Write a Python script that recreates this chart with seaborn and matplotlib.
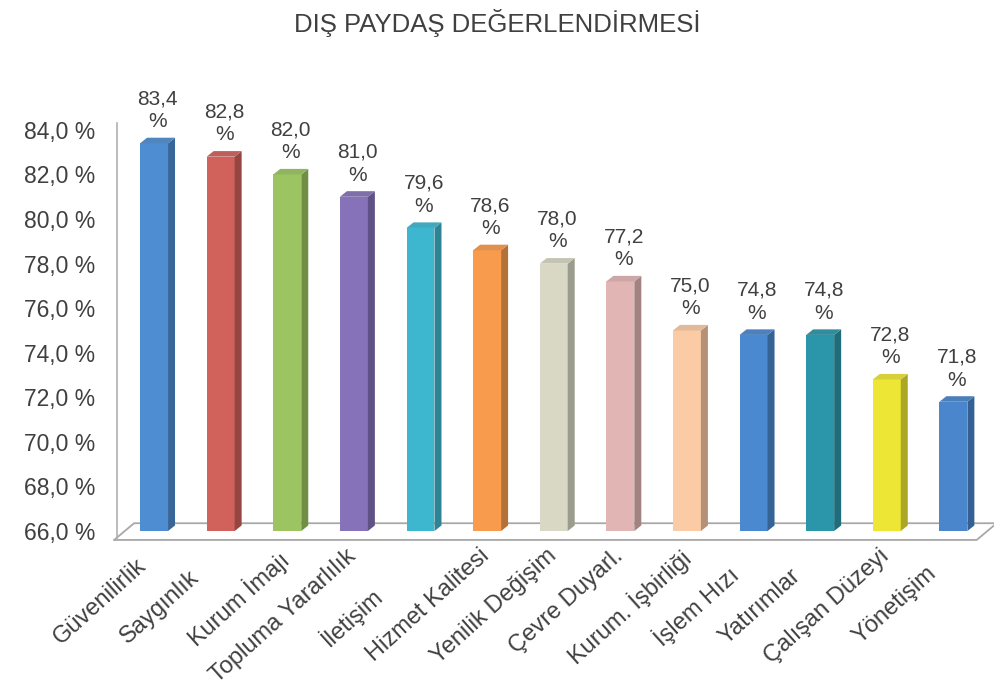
import math
import matplotlib
matplotlib.use("Agg")
import matplotlib.pyplot as plt
import seaborn as sns
import pandas as pd
from matplotlib.patches import Polygon
from matplotlib.transforms import blended_transform_factory, ScaledTranslation
import matplotlib.colors as mcolors

categories = ["Güvenilirlik", "Saygınlık", "Kurum İmajı", "Topluma Yararlılık", "İletişim",
              "Hizmet Kalitesi", "Yenilik Değişim", "Çevre Duyarl.", "Kurum. İşbirliği",
              "İşlem Hızı", "Yatırımlar", "Çalışan Düzeyi", "Yönetişim"]
values = [83.4, 82.8, 82.0, 81.0, 79.6, 78.6, 78.0, 77.2, 75.0, 74.8, 74.8, 72.8, 71.8]
colors = ["#4F8DD3", "#D0615B", "#9CC561", "#8572B9", "#3DB7CF", "#F89B4C", "#D9D8C5",
          "#E2B5B5", "#FBCBA5", "#4A89CF", "#2B96A9", "#EEE634", "#4A86CC"]
yticks = [66, 68, 70, 72, 74, 76, 78, 80, 82, 84]
title = "DIŞ PAYDAŞ DEĞERLENDİRMESİ"

sns.set_theme(style="white")
plt.rcParams["font.family"] = ["Liberation Sans", "DejaVu Sans"]
text_color = "#404040"

fig = plt.figure(figsize=(9.95, 6.91), dpi=100)
ax = fig.add_axes([0.118, 0.2315, 0.877, 0.5805])

df = pd.DataFrame({"cat": categories, "val": values})
sns.barplot(data=df, x="cat", y="val", hue="cat", palette=colors, legend=False,
            width=0.42, ax=ax, saturation=1, edgecolor="none")
ymin, ymax = 66, 84
ax.set_ylim(ymin, ymax)
n = len(categories)
ax.set_xlim(-0.55, n - 0.45)

# floor (perspective)
ax.plot([-0.6, -0.3, n - 0.35], [65.6, 66.35, 66.35], color="#A8A8A8", lw=1.3,
        clip_on=False, zorder=0.5)
ax.plot([-0.6, n - 0.65, n - 0.35], [65.6, 65.6, 66.35],
        color="#A8A8A8", lw=1.3, clip_on=False, zorder=0.5)

# pseudo 3D side/top faces + value labels
for p, c in zip(ax.patches, colors):
    x0 = p.get_x()
    w, h = p.get_width(), p.get_height()
    dx, dy = w * 0.25, 0.25
    base = mcolors.to_rgb(c)
    side = tuple(v * 0.72 for v in base)
    top = tuple(min(1, v * 0.85 + 0.05) for v in base)
    p.set_zorder(2)
    ax.add_patch(Polygon([(x0 + w, ymin), (x0 + w + dx, ymin + dy), (x0 + w + dx, h + dy),
                          (x0 + w, h)], closed=True, facecolor=side, edgecolor="none",
                         zorder=2))
    ax.add_patch(Polygon([(x0, h), (x0 + w, h), (x0 + w + dx, h + dy),
                          (x0 + dx, h + dy)], closed=True, facecolor=top, edgecolor="none",
                         zorder=2))
    ax.text(x0 + w / 2 + dx / 2, h + 0.55, f"{h:.1f}".replace(".", ",") + "\n%",
            ha="center", va="bottom", fontsize=15, color=text_color, linespacing=1.25)

ax.set_yticks(yticks)
ax.set_yticklabels([f"{t:.1f}".replace(".", ",") + " %" for t in yticks], fontsize=16.5,
                   color=text_color)
ax.set_xticks(range(n))
ax.set_xticklabels([])
ax.tick_params(axis="x", length=0)
ax.tick_params(axis="y", pad=16, length=0)
ax.set_xlabel("")
ax.set_ylabel("")
for s in ["top", "right", "bottom"]:
    ax.spines[s].set_visible(False)
ax.spines["left"].set_color("#B0B0B0")
ax.spines["left"].set_linewidth(1.2)
ax.spines["left"].set_bounds(65.6, 84.3)
ax.grid(False)

# category labels: rotated, Excel-like placement (short labels share a start point)
fig.canvas.draw()
renderer = fig.canvas.get_renderer()
trans = blended_transform_factory(ax.transData, ax.transAxes)
angle = 42
theta = math.radians(angle)
min_len = 130
for i, cat in enumerate(categories):
    t = ax.text(i, 0, cat, rotation=angle, rotation_mode="anchor", ha="right", va="top",
                fontsize=17, color=text_color, clip_on=False)
    wpx, _, _ = renderer.get_text_width_height_descent(cat, t.get_fontproperties(), ismath=False)
    extra = max(0.0, min_len - wpx)
    ox = -8 - extra * math.cos(theta)
    oy = -14 - extra * math.sin(theta)
    t.set_transform(trans + ScaledTranslation(ox / fig.dpi, oy / fig.dpi, fig.dpi_scale_trans))

fig.text(0.5, 0.966, title, ha="center", va="center", fontsize=18.5, color=text_color)

fig.savefig("out.png", dpi=100)
